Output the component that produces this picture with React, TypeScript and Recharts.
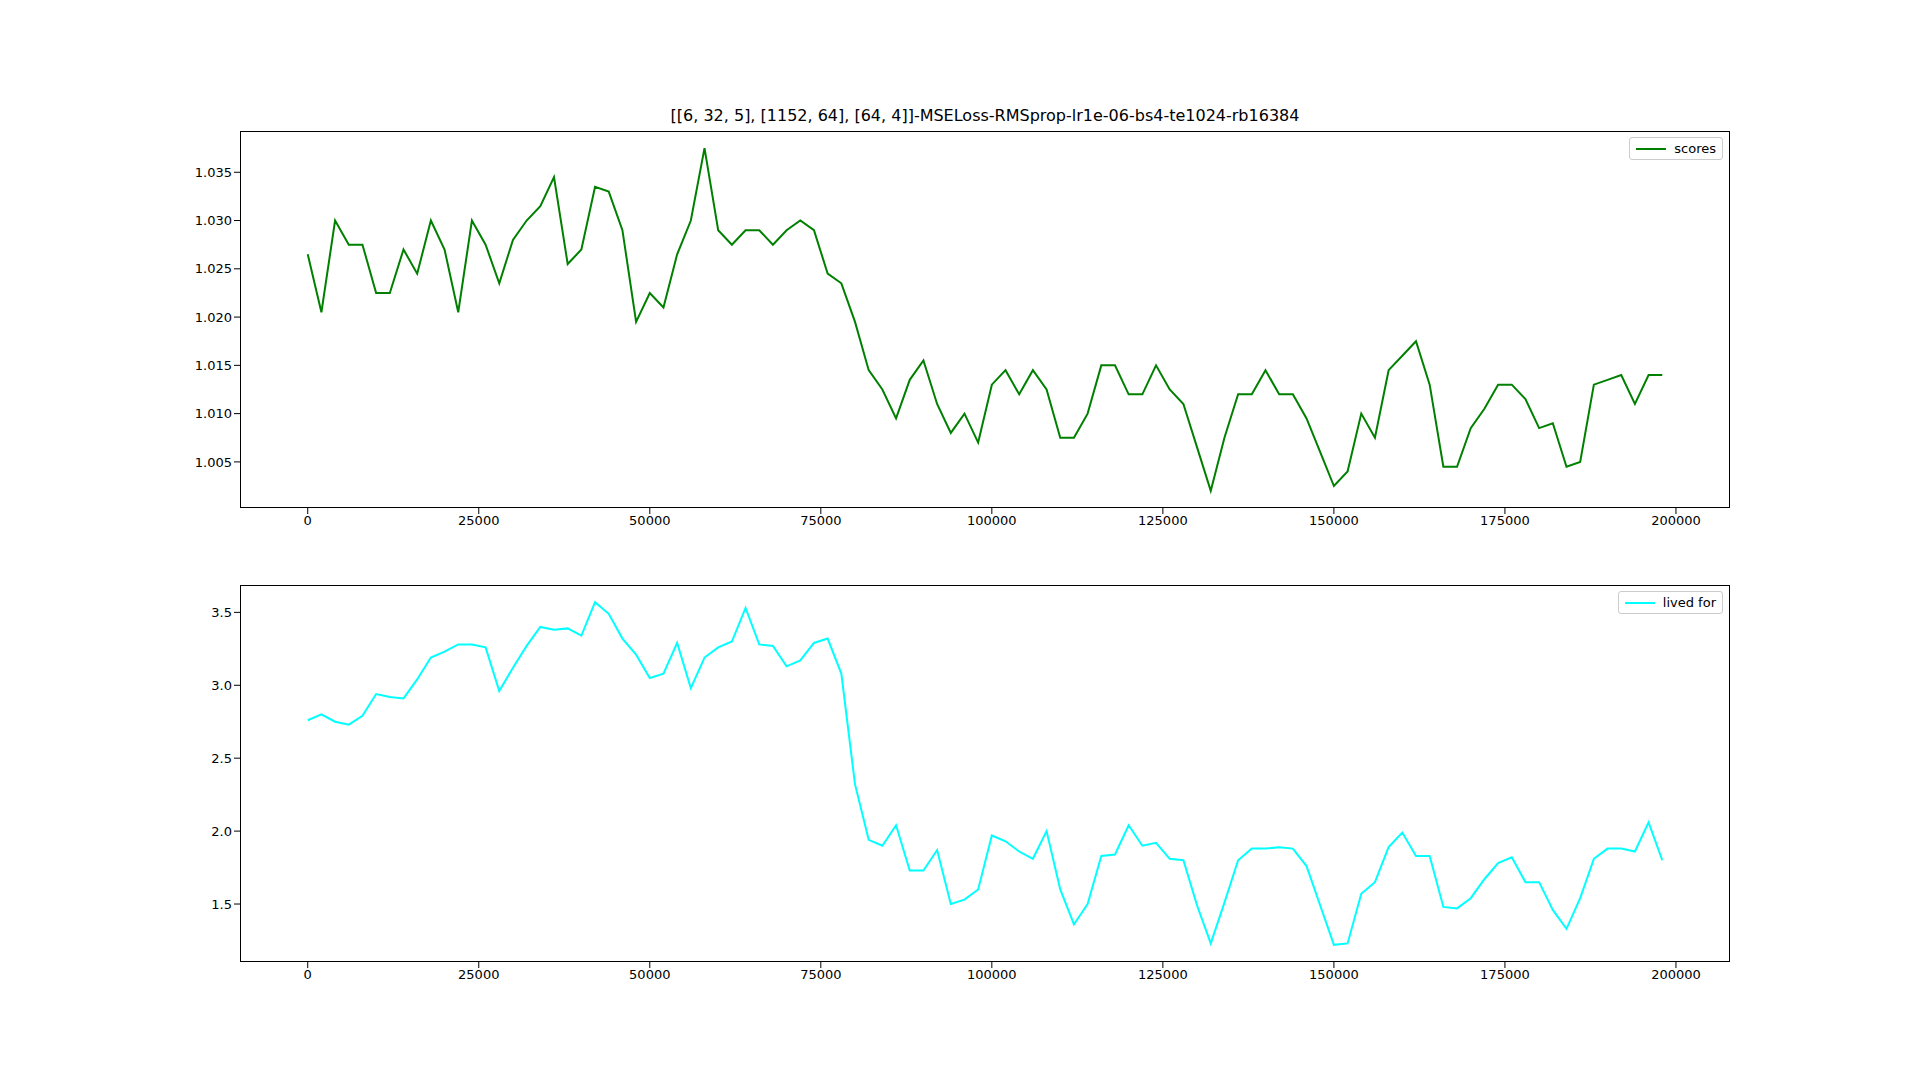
import React from "react";
import { LineChart, Line, XAxis, YAxis } from "recharts";

const steps = [
  0, 2000, 4000, 6000, 8000, 10000, 12000, 14000, 16000, 18000, 20000, 22000, 24000, 26000, 28000, 30000, 32000, 34000, 36000, 38000,
  40000, 42000, 44000, 46000, 48000, 50000, 52000, 54000, 56000, 58000, 60000, 62000, 64000, 66000, 68000, 70000, 72000, 74000, 76000, 78000,
  80000, 82000, 84000, 86000, 88000, 90000, 92000, 94000, 96000, 98000, 100000, 102000, 104000, 106000, 108000, 110000, 112000, 114000, 116000, 118000,
  120000, 122000, 124000, 126000, 128000, 130000, 132000, 134000, 136000, 138000, 140000, 142000, 144000, 146000, 148000, 150000, 152000, 154000, 156000, 158000,
  160000, 162000, 164000, 166000, 168000, 170000, 172000, 174000, 176000, 178000, 180000, 182000, 184000, 186000, 188000, 190000, 192000, 194000, 196000, 198000,
];

const scores = [
  1.0265, 1.0205, 1.03, 1.0275, 1.0275, 1.0225, 1.0225, 1.027, 1.0245, 1.03, 1.027, 1.0205, 1.03, 1.0275, 1.0235, 1.028, 1.03, 1.0315, 1.0345, 1.0255,
  1.027, 1.0335, 1.033, 1.029, 1.0195, 1.0225, 1.021, 1.0265, 1.03, 1.0375, 1.029, 1.0275, 1.029, 1.029, 1.0275, 1.029, 1.03, 1.029, 1.0245, 1.0235,
  1.0195, 1.0145, 1.0125, 1.0095, 1.0135, 1.0155, 1.011, 1.008, 1.01, 1.007, 1.013, 1.0145, 1.012, 1.0145, 1.0125, 1.0075, 1.0075, 1.01, 1.015, 1.015,
  1.012, 1.012, 1.015, 1.0125, 1.011, 1.0065, 1.002, 1.0075, 1.012, 1.012, 1.0145, 1.012, 1.012, 1.0095, 1.006, 1.0025, 1.004, 1.01, 1.0075, 1.0145,
  1.016, 1.0175, 1.013, 1.0045, 1.0045, 1.0085, 1.0105, 1.013, 1.013, 1.0115, 1.0085, 1.009, 1.0045, 1.005, 1.013, 1.0135, 1.014, 1.011, 1.014, 1.014,
];

const livedFor = [
  2.76, 2.8, 2.75, 2.73, 2.79, 2.94, 2.92, 2.91, 3.04, 3.19, 3.23, 3.28, 3.28, 3.26, 2.96, 3.12, 3.27, 3.4, 3.38, 3.39,
  3.34, 3.57, 3.49, 3.32, 3.21, 3.05, 3.08, 3.29, 2.98, 3.19, 3.26, 3.3, 3.53, 3.28, 3.27, 3.13, 3.17, 3.29, 3.32, 3.08,
  2.32, 1.94, 1.9, 2.04, 1.73, 1.73, 1.87, 1.5, 1.53, 1.6, 1.97, 1.93, 1.86, 1.81, 2.0, 1.6, 1.36, 1.5, 1.83, 1.84,
  2.04, 1.9, 1.92, 1.81, 1.8, 1.49, 1.23, 1.51, 1.8, 1.88, 1.88, 1.89, 1.88, 1.76, 1.49, 1.22, 1.23, 1.57, 1.65, 1.89,
  1.99, 1.83, 1.83, 1.48, 1.47, 1.54, 1.67, 1.78, 1.82, 1.65, 1.65, 1.46, 1.33, 1.54, 1.81, 1.88, 1.88, 1.86, 2.06, 1.8,
];

const xTicks = [0, 25000, 50000, 75000, 100000, 125000, 150000, 175000, 200000];
const scoreTicks = [1.005, 1.01, 1.015, 1.02, 1.025, 1.03, 1.035];
const livedTicks = [1.5, 2.0, 2.5, 3.0, 3.5];

const data = steps.map((s, i) => ({ step: s, scores: scores[i], lived: livedFor[i] }));

const FONT = "DejaVu Sans, sans-serif";
const tickStyle = { fill: "#000", fontSize: 13, fontFamily: FONT };
const PLOT_L = 240;
const PLOT_R = 1730;

const Panel = ({ top, bottom, dataKey, color, domain, ticks, fmt, label }: any) => {
  const h = bottom - top;
  return (
    <>
      <div style={{ position: "absolute", left: 0, top: 0 }}>
        <LineChart
          width={1920}
          height={bottom + 40}
          data={data}
          margin={{ top, right: 1920 - PLOT_R, bottom: 10, left: PLOT_L - 70 }}
        >
          <XAxis
            dataKey="step"
            type="number"
            domain={[-9900, 207900]}
            ticks={xTicks}
            axisLine={false}
            tickSize={6}
            tickLine={{ stroke: "#000" }}
            tick={tickStyle}
            height={30}
            allowDataOverflow
          />
          <YAxis
            type="number"
            domain={domain}
            ticks={ticks}
            tickFormatter={fmt}
            axisLine={false}
            tickSize={6}
            tickLine={{ stroke: "#000" }}
            tick={tickStyle}
            width={70}
            allowDataOverflow
          />
          <Line dataKey={dataKey} stroke={color} strokeWidth={2} dot={false} isAnimationActive={false} />
        </LineChart>
      </div>
      <div
        style={{
          position: "absolute",
          left: PLOT_L,
          top,
          width: PLOT_R - PLOT_L,
          height: h,
          border: "1px solid #000",
          boxSizing: "border-box",
          pointerEvents: "none",
        }}
      />
      <div
        style={{
          position: "absolute",
          right: 1920 - PLOT_R + 7,
          top: top + 6,
          border: "1px solid #ccc",
          borderRadius: 3,
          background: "#fff",
          padding: "3px 6px",
          display: "flex",
          alignItems: "center",
          gap: 8,
          fontFamily: FONT,
          fontSize: 13,
        }}
      >
        <div style={{ width: 30, height: 2, background: color }} />
        <span>{label}</span>
      </div>
    </>
  );
};

export default function App() {
  return (
    <div style={{ position: "absolute", left: 0, top: 0, width: 1920, height: 1080, background: "#fff" }}>
      <div
        style={{
          position: "absolute",
          left: PLOT_L,
          width: PLOT_R - PLOT_L,
          top: 106,
          textAlign: "center",
          fontFamily: FONT,
          fontSize: 16,
        }}
      >
        [[6, 32, 5], [1152, 64], [64, 4]]-MSELoss-RMSprop-lr1e-06-bs4-te1024-rb16384
      </div>
      <Panel
        top={131}
        bottom={508}
        dataKey="scores"
        color="#008000"
        domain={[1.000225, 1.039275]}
        ticks={scoreTicks}
        fmt={(v: number) => v.toFixed(3)}
        label="scores"
      />
      <Panel
        top={585}
        bottom={962}
        dataKey="lived"
        color="#00ffff"
        domain={[1.1025, 3.6875]}
        ticks={livedTicks}
        fmt={(v: number) => v.toFixed(1)}
        label="lived for"
      />
    </div>
  );
}
